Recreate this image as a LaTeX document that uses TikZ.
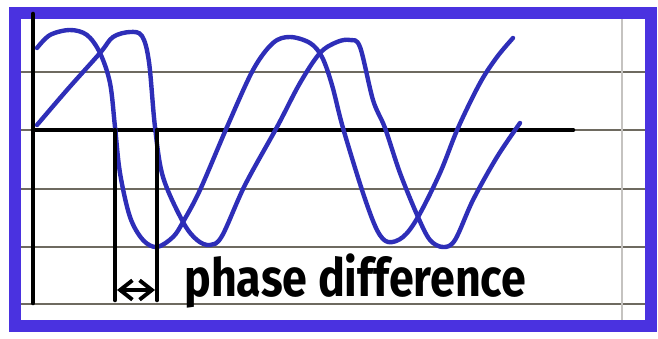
\documentclass[tikz,border=0pt]{standalone}
\usepackage{fontspec}
\setmainfont{Fira Sans}
\usetikzlibrary{arrows.meta,positioning}
\definecolor{penBlue}{HTML}{2E2EB8}
\definecolor{frameBlue}{HTML}{4A32E0}
\definecolor{ruleGrey}{HTML}{6E6A60}

\begin{document}
\begin{tikzpicture}[x=0.02cm,y=-0.02cm,
        wave/.style={draw=penBlue,line width=2.5pt,line join=round,line cap=round},
        axis/.style={draw=black,line width=2.6pt,line cap=round},
        ruled/.style={draw=ruleGrey,line width=0.7pt},
        frame/.style={draw=frameBlue,line width=6.5pt}]
    \fill[white] (0,0) rectangle (658,338);
    \useasboundingbox (0,0) rectangle (658,338);
    % lined paper
    \foreach \y in {72,130,189,247,304}
        \draw[ruled] (18,\y) -- (648,\y);
    \draw[ruleGrey!40,line width=0.6pt] (622,18) -- (622,322);
    \draw[frame] (15,13) rectangle (651,326);
    % axes
    \coordinate (ytop) at (33,14);
    \coordinate (ybot) at (33,303);
    \coordinate (orig) at (33,130);
    \coordinate (xend) at (573,130);
    \draw[axis] (ytop) -- (ybot);
    \draw[axis] (orig) -- (xend);
    % leading wave
    \draw[wave] plot[smooth,tension=0.55] coordinates {(37,48) (50,35) (70,30) (87,35) (100,53)
        (110,83) (115,127) (120,173) (130,217) (143,240) (157,247) (173,237) (183,222)
        (200,190) (227,127) (253,70) (273,43) (290,37) (310,43) (322,57) (332,85) (343,128)
        (363,193) (377,230) (388,242) (403,237) (418,217) (440,173) (458,128) (480,83)
        (497,57) (513,38)};
    % lagging wave
    \draw[wave] plot[smooth,tension=0.55] coordinates {(37,125) (67,90) (100,53) (113,37)
        (130,32) (142,36) (149,62) (155,127) (163,177) (183,222) (197,240) (210,245)
        (222,236) (245,185) (277,127) (300,83) (320,53) (337,42) (350,40) (360,47)
        (373,100) (385,128) (400,173) (418,217) (430,240) (443,247) (455,240) (473,200)
        (497,157) (520,123)};
    % phase difference marker
    \coordinate (cutA) at (115,130);
    \coordinate (cutB) at (157,130);
    \coordinate (footA) at (115,300);
    \coordinate (footB) at (157,300);
    \coordinate (tipA) at (117,290);
    \coordinate (tipB) at (155,290);
    \draw[axis] (cutA) -- (footA);
    \draw[axis] (cutB) -- (footB);
    \draw[axis,line width=2.2pt,{Straight Barb[length=7pt,width=11pt]}-{Straight Barb[length=7pt,width=11pt]}] (tipA) -- (tipB);
    \node[anchor=base west,inner sep=0pt,font=\fontsize{30}{30}\selectfont\bfseries] (label) at (184,296)
        {\scalebox{0.85}[1]{phase difference}};
\end{tikzpicture}
\end{document}
